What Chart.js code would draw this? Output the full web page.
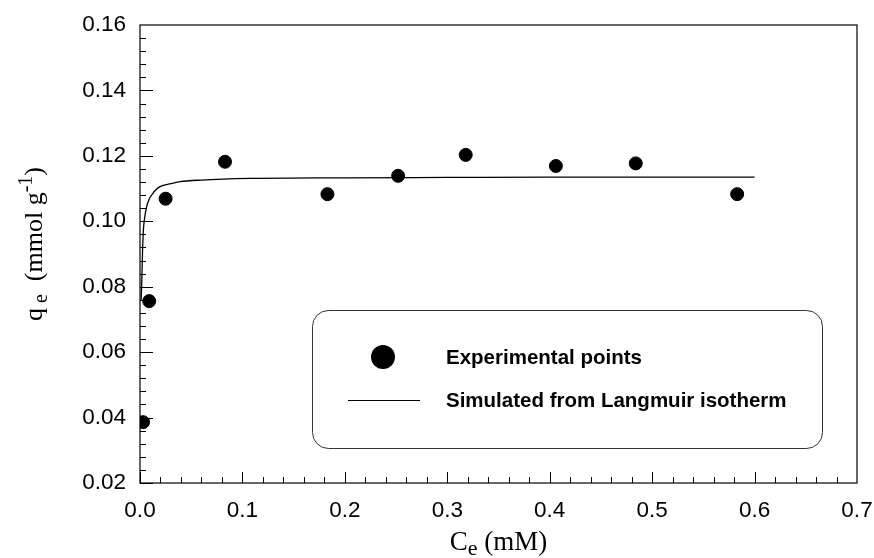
<!DOCTYPE html>
<html>
<head>
<meta charset="utf-8">
<script src="https://cdn.jsdelivr.net/npm/chart.js@4.4.1/dist/chart.umd.min.js"></script>
<style>
  html, body { margin: 0; padding: 0; background: #fff; }
  #wrap { width: 874px; height: 558px; position: relative; }
</style>
</head>
<body>
<div id="wrap"><canvas id="chart" width="874" height="558"></canvas></div>
<script>
// experimental points
const ceExp = [0.003, 0.009, 0.025, 0.083, 0.183, 0.252, 0.318, 0.406, 0.484, 0.583];
const qeExp = [0.0386, 0.0756, 0.1069, 0.1182, 0.1083, 0.1139, 0.1203, 0.1169, 0.1177, 0.1083];

// Langmuir curve
const ceFit = [0.0011, 0.0016, 0.0025, 0.0033, 0.0045, 0.0065, 0.009, 0.0114, 0.015, 0.0195, 0.03, 0.039, 0.06, 0.107, 0.2, 0.3, 0.4, 0.5, 0.6];
const qeFit = [0.076, 0.080, 0.091, 0.0973, 0.101, 0.1045, 0.1068, 0.108, 0.1095, 0.1106, 0.1115, 0.1121, 0.1126, 0.1131, 0.1133, 0.1134, 0.1135, 0.1135, 0.1135];

const xTicks = [0.0, 0.1, 0.2, 0.3, 0.4, 0.5, 0.6, 0.7];
const yTicks = [0.02, 0.04, 0.06, 0.08, 0.10, 0.12, 0.14, 0.16];
const seriesNames = ['Experimental points', 'Simulated from Langmuir isotherm'];

const SANS = '"Liberation Sans", Arial, sans-serif';
const SERIF = '"Liberation Serif", "Times New Roman", serif';

function toXY(xs, ys){ return xs.map((x, i) => ({ x, y: ys[i] })); }

// inward ticks, frame, axis titles and legend
const decor = {
  id: 'decor',
  afterDraw(chart){
    const ctx = chart.ctx;
    const { left, right, top, bottom } = chart.chartArea;
    const xs = chart.scales.x, ys = chart.scales.y;
    ctx.save();
    ctx.strokeStyle = '#000';
    ctx.lineWidth = 1.2;
    ctx.strokeRect(left, top, right - left, bottom - top);

    ctx.lineWidth = 1;
    ctx.beginPath();
    for(let i = 0; i < xTicks.length - 1; i++){
      const step = (xTicks[i+1] - xTicks[i]) / 5;
      for(let k = 0; k < 5; k++){
        const px = Math.round(xs.getPixelForValue(xTicks[i] + k*step)) + 0.5;
        const len = k === 0 ? 11 : 6;
        ctx.moveTo(px, bottom); ctx.lineTo(px, bottom - len);
      }
    }
    for(let i = 0; i < yTicks.length - 1; i++){
      const step = (yTicks[i+1] - yTicks[i]) / 5;
      for(let k = 0; k < 5; k++){
        const py = Math.round(ys.getPixelForValue(yTicks[i] + k*step)) + 0.5;
        const len = k === 0 ? 13 : 6;
        ctx.moveTo(left, py); ctx.lineTo(left + len, py);
      }
    }
    ctx.stroke();

    // x title: C_e (mM)
    ctx.fillStyle = '#000';
    ctx.textBaseline = 'alphabetic';
    const big = '27px ' + SERIF, sub = '22px ' + SERIF;
    ctx.font = big; const wC = ctx.measureText('C').width;
    ctx.font = sub; const wE = ctx.measureText('e').width;
    ctx.font = big; const wR = ctx.measureText(' (mM)').width;
    let x0 = (left + right) / 2 - (wC + wE + wR) / 2;
    const base = 550;
    ctx.font = big; ctx.fillText('C', x0, base);
    ctx.font = sub; ctx.fillText('e', x0 + wC, base + 5);
    ctx.font = big; ctx.fillText(' (mM)', x0 + wC + wE, base);

    // y title: q_e (mmol g^-1)
    ctx.save();
    ctx.translate(42, 244);
    ctx.rotate(-Math.PI / 2);
    const yb = '26px ' + SERIF, ys2 = '20px ' + SERIF;
    const parts = [
      ['q', yb, 0], [' e', ys2, 5], ['  (mmol g', yb, 0], ['-1', ys2, -10], [')', yb, 0]
    ];
    let tw = 0;
    for(const p of parts){ ctx.font = p[1]; tw += ctx.measureText(p[0]).width; }
    let cx = -tw / 2;
    for(const p of parts){
      ctx.font = p[1];
      ctx.fillText(p[0], cx, p[2]);
      cx += ctx.measureText(p[0]).width;
    }
    ctx.restore();

    // legend box
    const lx = 312, ly = 310, lw = 510, lh = 138, r = 16;
    ctx.lineWidth = 1;
    ctx.strokeStyle = '#333';
    ctx.beginPath();
    ctx.roundRect(lx + 0.5, ly + 0.5, lw, lh, r);
    ctx.stroke();

    ctx.fillStyle = '#000';
    ctx.beginPath();
    ctx.arc(383, 357, 12, 0, Math.PI * 2);
    ctx.fill();
    ctx.strokeStyle = '#000';
    ctx.beginPath();
    ctx.moveTo(348, 400.5); ctx.lineTo(420, 400.5);
    ctx.stroke();

    ctx.font = 'bold 20.5px ' + SANS;
    ctx.textBaseline = 'middle';
    ctx.fillText(seriesNames[0], 446, 358);
    ctx.fillText(seriesNames[1], 446, 401);
    ctx.restore();
  }
};

new Chart(document.getElementById('chart'), {
  type: 'scatter',
  data: {
    datasets: [
      {
        label: seriesNames[0],
        data: toXY(ceExp, qeExp),
        backgroundColor: '#000',
        borderColor: '#000',
        pointRadius: 6.5,
        pointHoverRadius: 6.5,
        showLine: false,
        order: 1
      },
      {
        label: seriesNames[1],
        data: toXY(ceFit, qeFit),
        borderColor: '#000',
        borderWidth: 1.3,
        pointRadius: 0,
        showLine: true,
        cubicInterpolationMode: 'monotone',
        order: 2
      }
    ]
  },
  options: {
    responsive: false,
    animation: false,
    layout: { padding: { top: 25, right: 17, left: 0, bottom: 0 } },
    plugins: { legend: { display: false }, tooltip: { enabled: false } },
    scales: {
      x: {
        type: 'linear',
        min: xTicks[0], max: xTicks[xTicks.length - 1],
        grid: { display: false, drawTicks: false },
        border: { display: false },
        afterBuildTicks: s => { s.ticks = xTicks.map(v => ({ value: v })); },
        afterFit: s => { s.height = 75; s.paddingLeft = 0; s.paddingRight = 0; },
        ticks: {
          padding: 14,
          color: '#000',
          font: { family: SANS, size: 22.5 },
          maxRotation: 0,
          callback: v => Number(v).toFixed(1)
        }
      },
      y: {
        type: 'linear',
        min: yTicks[0], max: yTicks[yTicks.length - 1],
        grid: { display: false, drawTicks: false },
        border: { display: false },
        afterBuildTicks: s => { s.ticks = yTicks.map(v => ({ value: v })); },
        afterFit: s => { s.width = 140; s.paddingTop = 0; s.paddingBottom = 0; },
        ticks: {
          padding: 14,
          color: '#000',
          font: { family: SANS, size: 22.5 },
          callback: v => Number(v).toFixed(2)
        }
      }
    }
  },
  plugins: [decor]
});
</script>
</body>
</html>
